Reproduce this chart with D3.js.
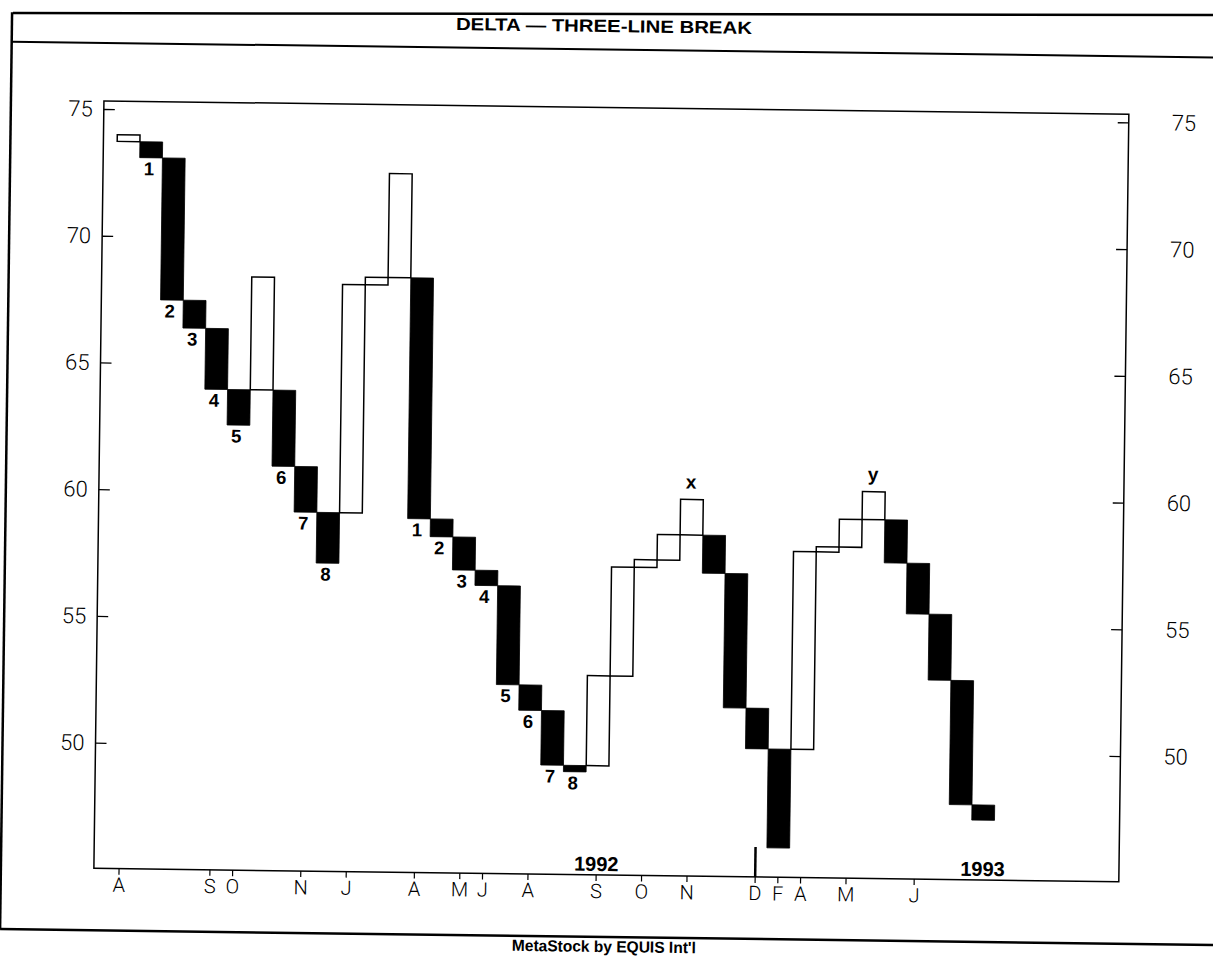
<!DOCTYPE html>
<html><head><meta charset="utf-8">
<script src="https://cdn.jsdelivr.net/npm/d3@7"></script>
<style>
html,body{margin:0;padding:0;background:#fff;}
svg{display:block;background:#fff;}
.bold{font-family:"Liberation Sans",Arial,Helvetica,sans-serif;font-weight:bold;fill:#000;}
.reg{font-family:"Liberation Sans",Arial,Helvetica,sans-serif;fill:#000;}
.thin text{font-family:Roboto,"DejaVu Sans",sans-serif;font-weight:300;fill:#000;}
</style></head><body>
<svg id="chart" width="1213" height="962"></svg>
<script>
// ---- data (three-line break lines) ----
const lineOpen  = [73.73,73.73,73.1,67.5,66.4,64.0,64.0,64.0,61.0,59.2,59.2,68.2,68.5,68.5,59.0,58.3,57.0,56.4,52.5,51.5,49.35,49.35,52.9,57.2,57.5,58.5,58.5,57.0,51.7,50.1,50.1,57.9,58.1,59.2,59.2,57.5,55.5,52.9,48.0];
const lineClose = [73.99,73.1,67.5,66.4,64.0,62.6,68.45,61.0,59.2,57.2,68.2,68.5,72.6,59.0,58.3,57.0,56.4,52.5,51.5,49.35,49.1,52.9,57.2,57.5,58.5,59.9,57.0,51.7,50.1,46.2,57.9,58.1,59.2,60.3,57.5,55.5,52.9,48.0,47.4];
const yTicks = [50,55,60,65,70,75];
const monthCols   = [0,4,5,8,10,13,15,16,18,21,23,25,28,29,30,32,35];
const monthLabels = ["A","S","O","N","J","A","M","J","A","S","O","N","D","F","A","M","J"];
const countCols   = [1,2,3,4,5,7,8,9,13,14,15,16,17,18,19,20];
const countLabels = ["1","2","3","4","5","6","7","8","1","2","3","4","5","6","7","8"];
const peakCols    = [25,33];
const peakLabels  = ["x","y"];
const yearCols    = [21,38];
const yearLabels  = ["1992","1993"];
const yearBreakCol = 28;
const titleText = "DELTA \u2014 THREE-LINE BREAK";
const footerText = "MetaStock by EQUIS Int'l";

// ---- layout ----
const frame = {left:99, right:1124, top:107.5, bottom:875};
const svg = d3.select("#chart");

// top border of the page (drawn straight)
svg.append("line").attr("x1",13).attr("x2",1213).attr("y1",13).attr("y2",15)
  .attr("stroke","#000").attr("stroke-width",2.5);

const g = svg.append("g").attr("transform","rotate(0.75 606 481)");

const x = d3.scaleBand().domain(d3.range(lineOpen.length)).range([112.8, 998.9]).padding(0);
const y = d3.scaleLinear().domain([50,75]).range([749.35,115.6]);

// outer box
const box = g.append("g").attr("stroke","#000").attr("fill","none");
box.append("line").attr("x1",6).attr("x2",1240).attr("y1",49.5).attr("y2",49.5).attr("stroke-width",2);
box.append("line").attr("x1",6).attr("x2",1240).attr("y1",937).attr("y2",937).attr("stroke-width",2.5);
box.append("line").attr("x1",6).attr("x2",6).attr("y1",20).attr("y2",937).attr("stroke-width",2.5);

g.append("text").attr("class","bold").attr("x",598).attr("y",32).attr("text-anchor","middle")
  .attr("font-size",17.5).attr("textLength",296).attr("lengthAdjust","spacingAndGlyphs").text(titleText);
g.append("text").attr("class","bold").attr("x",610).attr("y",952).attr("text-anchor","middle")
  .attr("font-size",16).attr("textLength",184).attr("lengthAdjust","spacingAndGlyphs").text(footerText);

// plot frame
g.append("rect").attr("x",frame.left).attr("y",frame.top)
  .attr("width",frame.right-frame.left).attr("height",frame.bottom-frame.top)
  .attr("fill","none").attr("stroke","#000").attr("stroke-width",1.5);

// y axes
const yl = g.append("g").attr("class","thin").attr("transform",`translate(${frame.left},0)`)
  .call(d3.axisLeft(y).tickValues(yTicks).tickSizeInner(-11).tickSizeOuter(0).tickPadding(11).tickFormat(d3.format("d")));
const yr = g.append("g").attr("class","thin").attr("transform",`translate(${frame.right},0)`)
  .call(d3.axisRight(y).tickValues(yTicks).tickSizeInner(-11).tickSizeOuter(0).tickPadding(43).tickFormat(d3.format("d")));
[yl,yr].forEach(a=>{a.select(".domain").remove();a.selectAll("line").attr("stroke-width",1.3);a.selectAll("text").attr("font-size",22);});

// x axis
const monthMap = new Map(monthCols.map((c,i)=>[c,monthLabels[i]]));
const xa = g.append("g").attr("class","thin").attr("transform",`translate(0,${frame.bottom})`)
  .call(d3.axisBottom(x).tickValues(monthCols).tickSizeInner(6).tickSizeOuter(0).tickPadding(3).tickFormat(c=>monthMap.get(c)));
xa.select(".domain").remove();
xa.selectAll("line").attr("stroke-width",1.2);
xa.selectAll("text").attr("font-size",20);

// year break + year labels
g.append("line").attr("x1",x(yearBreakCol)+x.bandwidth()/2).attr("x2",x(yearBreakCol)+x.bandwidth()/2)
  .attr("y1",frame.bottom-30).attr("y2",frame.bottom).attr("stroke","#000").attr("stroke-width",2.5);
g.selectAll(".year").data(yearCols).join("text").attr("class","bold")
  .attr("x",c=>x(c)+x.bandwidth()/2).attr("y",frame.bottom-4).attr("text-anchor","middle")
  .attr("font-size",20).text((c,i)=>yearLabels[i]);

// bars
const bars = lineOpen.map((o,i)=>({i, o, c:lineClose[i], up: lineClose[i]>o}));
g.selectAll(".bar").data(bars).join("rect")
  .attr("x",d=>x(d.i)).attr("width",x.bandwidth())
  .attr("y",d=>y(Math.max(d.o,d.c))).attr("height",d=>Math.abs(y(d.o)-y(d.c)))
  .attr("fill",d=>d.up?"#fff":"#000").attr("stroke","#000").attr("stroke-width",d=>d.up?1.5:0.8);

// count labels under black lines
g.selectAll(".cnt").data(countCols).join("text").attr("class","bold")
  .attr("x",c=>x(c)+x.bandwidth()/2-2)
  .attr("y",c=>y(Math.min(lineOpen[c],lineClose[c]))+17.5)
  .attr("text-anchor","middle").attr("font-size",18.5).text((c,i)=>countLabels[i]);

// peak labels
g.selectAll(".peak").data(peakCols).join("text").attr("class","bold")
  .attr("x",c=>x(c)+x.bandwidth()/2-1)
  .attr("y",c=>y(Math.max(lineOpen[c],lineClose[c]))-11)
  .attr("text-anchor","middle").attr("font-size",19).text((c,i)=>peakLabels[i]);
</script>
</body></html>
